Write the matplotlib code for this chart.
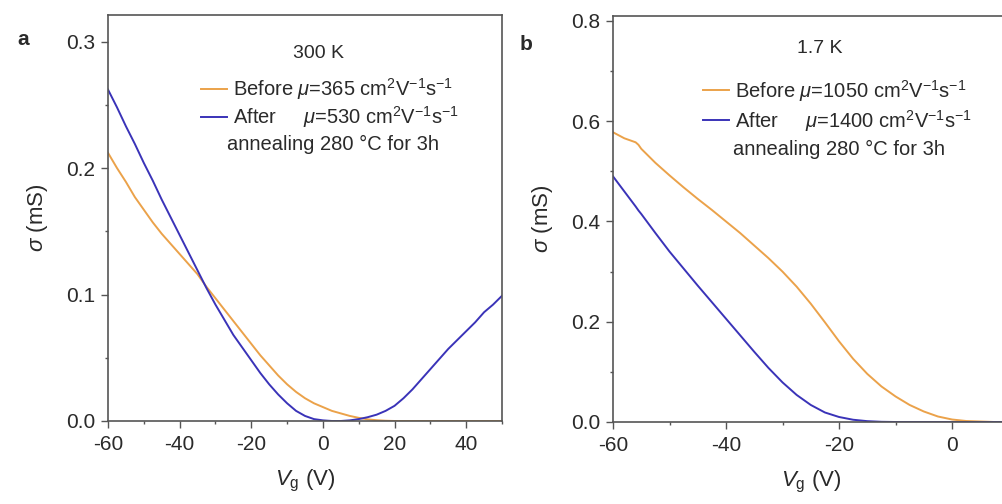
import matplotlib
matplotlib.use("Agg")
import matplotlib.pyplot as plt
from matplotlib.ticker import MultipleLocator

plt.rcParams['font.family'] = ['Liberation Sans', 'DejaVu Sans']
plt.rcParams['mathtext.fontset'] = 'custom'
plt.rcParams['mathtext.rm'] = 'Liberation Sans'
plt.rcParams['mathtext.it'] = 'Liberation Sans:italic'
plt.rcParams['mathtext.bf'] = 'Liberation Sans:bold'
plt.rcParams['axes.unicode_minus'] = False

# ---- data: panel a (300 K) ----
vg_a = [-60, -57.5, -55, -52.5, -50, -47.5, -45, -42.5, -40, -37.5, -35,
        -32.5, -30, -27.5, -25, -22.5, -20, -17.5, -15, -12.5, -10, -7.5,
        -5, -2.5, 0, 2.5, 5, 7.5, 10, 12.5, 15, 17.5, 20, 22.5, 25, 27.5,
        30, 32.5, 35, 37.5, 40, 42.5, 45, 47.5, 50]
before_a = [0.212, 0.200, 0.189, 0.177, 0.167, 0.157, 0.148, 0.140, 0.132,
            0.124, 0.116, 0.106, 0.097, 0.088, 0.079, 0.070, 0.061, 0.052,
            0.044, 0.036, 0.029, 0.023, 0.018, 0.014, 0.011, 0.008, 0.006,
            0.004, 0.0025, 0.0013, 0.0006, 0.0002, 0.0, 0.0, 0.0, 0.0, 0.0,
            0.0, 0.0, 0.0, 0.0, 0.0, 0.0, 0.0, 0.0]
after_a = [0.262, 0.248, 0.233, 0.219, 0.204, 0.190, 0.175, 0.161, 0.147,
           0.133, 0.119, 0.105, 0.092, 0.080, 0.068, 0.058, 0.048, 0.038,
           0.029, 0.021, 0.014, 0.008, 0.004, 0.0015, 0.0005, 0.0, 0.0,
           0.0005, 0.0015, 0.003, 0.005, 0.008, 0.012, 0.018, 0.025, 0.033,
           0.041, 0.049, 0.057, 0.064, 0.071, 0.078, 0.086, 0.092, 0.099]

# ---- data: panel b (1.7 K) ----
vg_b = [-60, -59, -58, -57, -56, -55.5, -55, -52.5, -50, -47.5, -45, -42.5,
        -40, -37.5, -35, -32.5, -30, -27.5, -25, -22.5, -20, -17.5, -15,
        -12.5, -10, -7.5, -5, -2.5, 0, 2.5, 5, 7.5, 10]
before_b = [0.578, 0.572, 0.566, 0.562, 0.558, 0.553, 0.545, 0.517, 0.492,
            0.468, 0.445, 0.423, 0.400, 0.377, 0.352, 0.327, 0.300, 0.270,
            0.236, 0.199, 0.161, 0.126, 0.096, 0.071, 0.051, 0.034, 0.021,
            0.011, 0.005, 0.002, 0.001, 0.0, 0.0]
after_b = [0.490, 0.475, 0.460, 0.445, 0.430, 0.422, 0.415, 0.377, 0.340,
           0.306, 0.272, 0.239, 0.206, 0.173, 0.140, 0.108, 0.079, 0.054,
           0.034, 0.019, 0.010, 0.0045, 0.0017, 0.0004, 0.0, 0.0, 0.0, 0.0,
           0.0, 0.0, 0.0, 0.0, 0.0]

labels_a = [r"Before $\mu$=365 cm$^{2}$V$^{-1}$s$^{-1}$",
            r"After     $\mu$=530 cm$^{2}$V$^{-1}$s$^{-1}$"]
labels_b = [r"Before $\mu$=1050 cm$^{2}$V$^{-1}$s$^{-1}$",
            r"After     $\mu$=1400 cm$^{2}$V$^{-1}$s$^{-1}$"]
note = "annealing 280 °C for 3h"
temps = ["300 K", "1.7 K"]

c_before = '#EBA24A'
c_after = '#3A33B8'
spine_c = '#555555'
text_c = '#2a2a2a'

fig = plt.figure(figsize=(10.02, 5.04), dpi=100)
axa = fig.add_axes([0.1078, 0.1647, 0.3932, 0.8056])
axb = fig.add_axes([0.6118, 0.1627, 0.3947, 0.8056])


def style(ax, xlim, ylim, ymaj, ymin, xmaj, xmin):
    ax.set_xlim(*xlim)
    ax.set_ylim(*ylim)
    ax.xaxis.set_major_locator(MultipleLocator(xmaj))
    ax.xaxis.set_minor_locator(MultipleLocator(xmin))
    ax.yaxis.set_major_locator(MultipleLocator(ymaj))
    ax.yaxis.set_minor_locator(MultipleLocator(ymin))
    ax.tick_params(which='both', direction='out', top=False, right=False,
                   color=spine_c, labelcolor=text_c)
    ax.tick_params(which='major', length=5, width=1, labelsize=15, pad=4)
    ax.tick_params(which='minor', length=2.5, width=1)
    ax.tick_params(axis='x', which='major', pad=5)
    for s in ax.spines.values():
        s.set_color(spine_c)
        s.set_linewidth(1.2)
    ax.set_xlabel(r"$V_{\mathrm{g}}$ (V)", fontsize=16, color=text_c, labelpad=10)
    ax.set_ylabel(r"$\sigma$ (mS)", fontsize=16, color=text_c, labelpad=12)


# panel a
la1, = axa.plot(vg_a, before_a, color=c_before, lw=1.4)
la2, = axa.plot(vg_a, after_a, color=c_after, lw=1.4)
style(axa, (-60, 50), (0, 0.321), 0.1, 0.05, 20, 10)
axa.yaxis.set_major_formatter(plt.FormatStrFormatter('%.1f'))
leg = axa.legend([la1, la2], labels_a, loc='upper left',
                 bbox_to_anchor=(0.235, 0.850), frameon=False, fontsize=14.5,
                 handlelength=1.3, handletextpad=0.3, borderpad=0,
                 borderaxespad=0, labelspacing=0.12)
for t in leg.get_texts():
    t.set_color(text_c)
axa.text(0.302, 0.680, note, transform=axa.transAxes, fontsize=14.5,
         color=text_c, va='center', ha='left')
axa.text(0.533, 0.906, temps[0], transform=axa.transAxes, fontsize=14,
         color=text_c, va='center', ha='center')

# panel b
lb1, = axb.plot(vg_b, before_b, color=c_before, lw=1.4)
lb2, = axb.plot(vg_b, after_b, color=c_after, lw=1.4)
style(axb, (-60, 10), (0, 0.81), 0.2, 0.1, 20, 10)
axb.yaxis.set_major_formatter(plt.FormatStrFormatter('%.1f'))
leg = axb.legend([lb1, lb2], labels_b, loc='upper left',
                 bbox_to_anchor=(0.228, 0.848), frameon=False, fontsize=14.5,
                 handlelength=1.3, handletextpad=0.3, borderpad=0,
                 borderaxespad=0, labelspacing=0.2)
for t in leg.get_texts():
    t.set_color(text_c)
axb.text(0.303, 0.672, note, transform=axb.transAxes, fontsize=14.5,
         color=text_c, va='center', ha='left')
axb.text(0.523, 0.921, temps[1], transform=axb.transAxes, fontsize=14,
         color=text_c, va='center', ha='center')

fig.text(17 / 1002, 1 - 40 / 504, 'a', fontsize=15, fontweight='bold',
         color=text_c, va='center', ha='left')
fig.text(520 / 1002, 1 - 45 / 504, 'b', fontsize=15, fontweight='bold',
         color=text_c, va='center', ha='left')

fig.savefig('out.png', dpi=100)
